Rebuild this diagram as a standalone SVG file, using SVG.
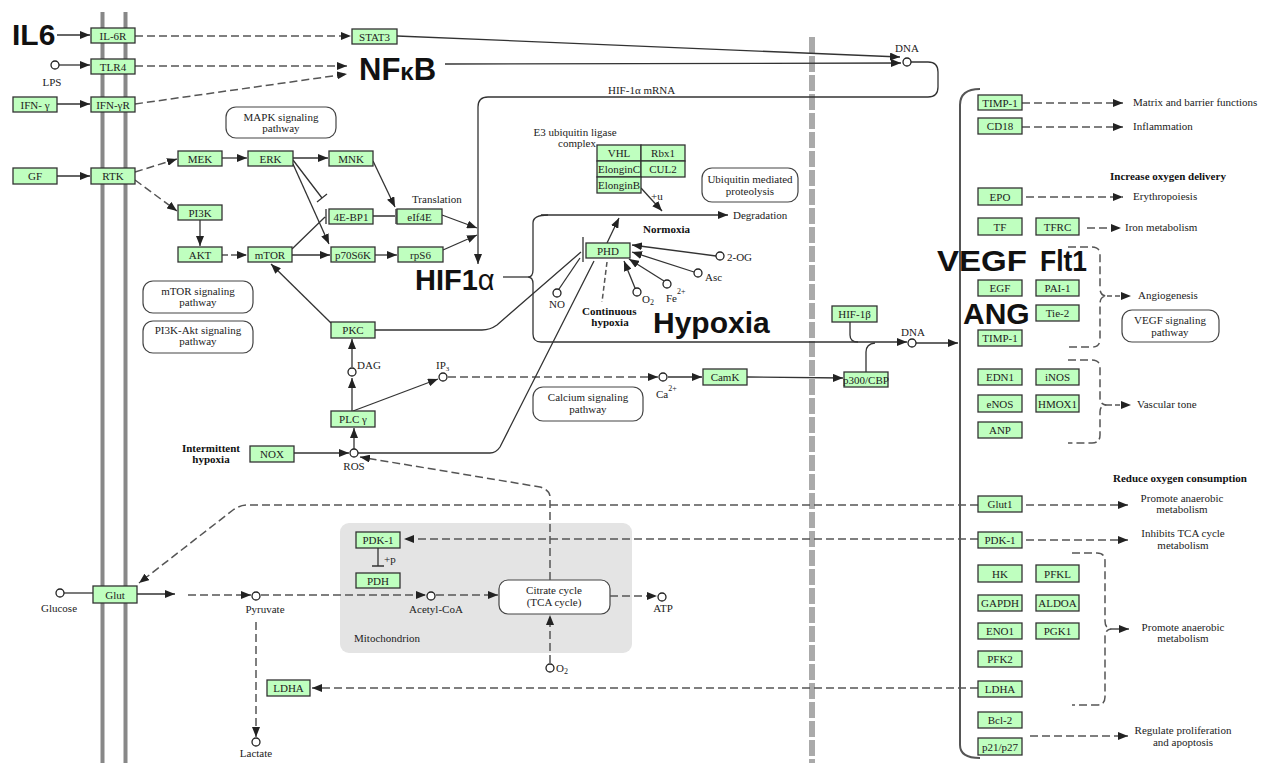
<svg xmlns="http://www.w3.org/2000/svg" width="1262" height="763" viewBox="0 0 1262 763">
<defs>
<marker id="ar" viewBox="0 0 10 8" refX="10" refY="4" markerWidth="10" markerHeight="8" markerUnits="userSpaceOnUse" orient="auto"><path d="M0,0 L10,4 L0,8 z" fill="#222"/></marker>
<style>
.n rect{fill:#bfffbf;stroke:#333;stroke-width:1.3}
.n text,.t{font-family:"Liberation Serif",serif;font-size:11px;fill:#222;text-anchor:middle}
.l{fill:none;stroke:#333;stroke-width:1.3}
.d{fill:none;stroke:#555;stroke-width:1.5;stroke-dasharray:8 4}
.a{marker-end:url(#ar)}
.c{fill:#fff;stroke:#222;stroke-width:1.3}
.pw{fill:#fff;stroke:#444;stroke-width:1.2}
.b{font-family:"Liberation Sans",Arial,sans-serif;font-weight:bold;fill:#111}
.bs{font-family:"Liberation Serif",serif;font-weight:bold;font-size:11px;fill:#111}
.tl{font-family:"Liberation Serif",serif;font-size:11px;fill:#222}
</style>
</defs>
<rect width="1262" height="763" fill="#fff"/>
<!-- membranes -->
<g id="membrane">
<line x1="102.5" y1="12" x2="102.5" y2="763" stroke="#888" stroke-width="4"/>
<line x1="125.5" y1="12" x2="125.5" y2="763" stroke="#888" stroke-width="4"/>
<line x1="812" y1="37" x2="812" y2="763" stroke="#aaa" stroke-width="6" stroke-dasharray="16 3"/>
</g>
<g id="mitochondrion">
<rect x="340" y="523" width="292" height="130" rx="9" fill="#e4e4e4"/>
<text class="tl" x="354" y="642">Mitochondrion</text>
</g>
<!-- pathway boxes -->
<g id="pathways">
<rect class="pw" x="226" y="107" width="110" height="31" rx="10"/>
<text class="t" x="281" y="121">MAPK signaling</text><text class="t" x="281" y="132">pathway</text>
<rect class="pw" x="143" y="281" width="110" height="32" rx="10"/>
<text class="t" x="198" y="295">mTOR signaling</text><text class="t" x="198" y="306">pathway</text>
<rect class="pw" x="143" y="321" width="110" height="32" rx="10"/>
<text class="t" x="198" y="334">PI3K-Akt signaling</text><text class="t" x="198" y="345">pathway</text>
<rect class="pw" x="702" y="168" width="96" height="34" rx="10"/>
<text class="t" x="750" y="183">Ubiquitin mediated</text><text class="t" x="750" y="195">proteolysis</text>
<rect class="pw" x="533" y="387" width="110" height="34" rx="10"/>
<text class="t" x="588" y="401">Calcium signaling</text><text class="t" x="588" y="413">pathway</text>
<rect class="pw" x="1122" y="310" width="97" height="32" rx="10"/>
<text class="t" x="1170" y="324">VEGF signaling</text><text class="t" x="1170" y="336">pathway</text>
<rect class="pw" x="499" y="580" width="111" height="34" rx="9"/>
<text class="t" x="554" y="594">Citrate cycle</text><text class="t" x="554" y="606">(TCA cycle)</text>
</g>
<!-- connectors -->
<g id="connectors">
<path class="l a" d="M57,35 L90,35"/>
<path class="l a" d="M59,65 L90,65"/>
<path class="l a" d="M57,104 L90,104"/>
<path class="l a" d="M57,176 L90,176"/>
<path class="d a" d="M135,36 L351,36"/>
<path class="d a" d="M135,66 L347,66"/>
<path class="d a" d="M135,104 L347,74"/>
<path class="l a" d="M397,36 L900,57"/>
<path class="l a" d="M445,64 L901,63"/>
<path class="l a" d="M911,62 L928,62 Q938,62 938,72 L938,87 Q938,97 928,97 L488,97 Q478,97 478,107 L478,264"/>
<path class="d a" d="M135,172 L177,159"/>
<path class="d a" d="M135,180 L177,211"/>
<path class="l a" d="M222,158 L247,158"/>
<path class="l a" d="M293,158 L328,158"/>
<path class="l a" d="M200,220 L200,246"/>
<path class="d a" d="M222,255 L247,255" style="stroke-dasharray:6 3"/>
<path class="l" d="M293,160 L322,198 M317,202 L327,194"/>
<path class="l a" d="M293,164 L329,244"/>
<path class="l" d="M292,249 L325,217 M326,209 L326,224"/>
<path class="l a" d="M292,255 L330,255"/>
<path class="l a" d="M373,161 L395,207"/>
<path class="l" d="M373,216 L395,216 M396,209 L396,224"/>
<path class="l a" d="M375,255 L397,255"/>
<path class="l a" d="M442,215 L477,228"/>
<path class="l a" d="M443,250 L477,235"/>
<path class="l a" d="M331,323 L271,264"/>
<path class="l a" d="M352,367 L352,339"/>
<path class="l a" d="M352,411 L352,378"/>
<path class="l a" d="M353,411 L438,379"/>
<path class="d a" d="M448,377 L658,377"/>
<path class="l a" d="M668,377 L702,377"/>
<path class="l a" d="M747,377 L843,378"/>
<path class="l a" d="M294,453 L349,453"/>
<path class="l a" d="M354,449 L354,428"/>
<path class="l" d="M375,330 L482,330 Q490,330 497,325 L581,252"/>
<path class="l" d="M358,453 L490,453 Q496,453 500,447 L594,261"/>
<path class="l" d="M559,289 L580,258"/>
<path class="l" d="M583,237 L583,262"/>
<path class="d" d="M607,262 L602,302" style="stroke-dasharray:5 3"/>
<path class="l a" d="M607,243 L619,218"/>
<path class="l a" d="M641,188 L662,211"/>
<path class="l a" d="M716,256 L632,245"/>
<path class="l a" d="M694,272 L632,252"/>
<path class="l a" d="M664,281 L629,259"/>
<path class="l a" d="M635,288 L624,261"/>
<path class="l a" d="M548,215 Q533,215 533,223 L533,270 Q533,277 528,277 Q533,277 533,284 L533,334 Q533,342 541,342 L907,342"/>
<path class="l" d="M541,215 L728,215" style="marker-end:url(#ar)"/>
<path class="l" d="M503,277 L528,277"/>
<path class="l" d="M850,322 L850,335 Q850,342 858,342"/>
<path class="l" d="M866,372 L866,352 Q866,344 875,343"/>
<path class="l a" d="M916,343 L958,343"/>
<path class="l" d="M980,89 Q960,89 960,105 L960,745 Q960,758 980,758" style="stroke:#555;stroke-width:2"/>
<!-- metabolism -->
<path class="l" d="M64,593 L93,593"/>
<path class="l a" d="M137,594 L175,594"/>
<path class="d a" d="M188,595 L251,595"/>
<path class="d a" d="M261,595 L426,595"/>
<path class="d a" d="M436,595 L498,595"/>
<path class="d a" d="M610,596 L657,596"/>
<path class="d a" d="M550,663 L550,615"/>
<path class="d a" d="M256,622 L256,737"/>
<path class="d a" d="M550,580 L550,497 Q550,490 540,487 L360,457"/>
<path class="l" d="M378,548 L378,566 M372,566 L384,566"/>
<path class="d a" d="M978,505 L248,505 Q240,505 233,510 L139,583"/>
<path class="d a" d="M978,539 L404,539"/>
<path class="d a" d="M978,688 L312,688"/>
<!-- right outputs -->
<path class="d a" d="M1022,103 L1123,103"/>
<path class="d a" d="M1022,127 L1123,127"/>
<path class="d a" d="M1026,197 L1123,197"/>
<path class="d a" d="M1087,228 L1121,228"/>
<path class="d" d="M1068,247 L1092,247 Q1100,247 1100,255 L1100,288 Q1100,296 1107,296 Q1100,296 1100,304 L1100,339 Q1100,347 1092,347 L1068,347"/>
<path class="d a" d="M1107,296 L1131,296" style="stroke-dasharray:5 3"/>
<path class="d" d="M1068,360 L1092,360 Q1100,360 1100,368 L1100,398 Q1100,405 1107,405 Q1100,405 1100,412 L1100,435 Q1100,443 1092,443 L1068,443"/>
<path class="d a" d="M1107,405 L1131,405" style="stroke-dasharray:5 3"/>
<path class="d a" d="M1026,505 L1128,505"/>
<path class="d a" d="M1026,540 L1128,540"/>
<path class="d" d="M1072,553 L1097,553 Q1105,553 1105,561 L1105,621 Q1105,629 1112,629 Q1105,629 1105,637 L1105,697 Q1105,705 1097,705 L1072,705"/>
<path class="l a" d="M1112,629 L1129,629"/>
<path class="d a" d="M1030,736 L1128,736"/>
</g>
<!-- compounds -->
<g id="compounds">
<circle class="c" cx="55" cy="65" r="4"/><text class="t" x="52" y="86">LPS</text>
<circle class="c" cx="907" cy="62" r="4"/><text class="t" x="907" y="52">DNA</text>
<circle class="c" cx="352" cy="372" r="4"/><text class="tl" x="357" y="369">DAG</text>
<circle class="c" cx="443" cy="377" r="4"/><text class="tl" x="436" y="369">IP<tspan font-size="7" dy="2">3</tspan></text>
<circle class="c" cx="663" cy="377" r="4"/><text class="tl" x="656" y="398">Ca<tspan font-size="8" dy="-7">2+</tspan></text>
<circle class="c" cx="354" cy="453" r="4"/><text class="t" x="354" y="470">ROS</text>
<circle class="c" cx="557" cy="293" r="4"/><text class="t" x="557" y="308">NO</text>
<circle class="c" cx="720" cy="256" r="4"/><text class="tl" x="727" y="261">2-OG</text>
<circle class="c" cx="698" cy="273" r="4"/><text class="tl" x="705" y="281">Asc</text>
<circle class="c" cx="667" cy="284" r="4"/><text class="tl" x="666" y="302">Fe<tspan font-size="8" dy="-8">2+</tspan></text>
<circle class="c" cx="637" cy="292" r="4"/><text class="tl" x="642" y="303">O<tspan font-size="8" dy="2">2</tspan></text>
<circle class="c" cx="912" cy="343" r="4"/><text class="t" x="913" y="336">DNA</text>
<circle class="c" cx="60" cy="593" r="4"/><text class="t" x="59" y="612">Glucose</text>
<circle class="c" cx="256" cy="596" r="4"/><text class="t" x="265" y="613">Pyruvate</text>
<circle class="c" cx="431" cy="596" r="4"/><text class="t" x="436" y="613">Acetyl-CoA</text>
<circle class="c" cx="662" cy="597" r="4"/><text class="t" x="663" y="612">ATP</text>
<circle class="c" cx="550" cy="668" r="4"/><text class="tl" x="556" y="672">O<tspan font-size="8" dy="2">2</tspan></text>
<circle class="c" cx="256" cy="742" r="4"/><text class="t" x="256" y="757">Lactate</text>
</g>
<!-- labels -->
<g id="labels">
<text class="b" x="12" y="45" font-size="30">IL6</text>
<text class="b" x="359" y="80" font-size="31">NF<tspan font-size="24">κ</tspan>B</text>
<text class="b" x="415" y="290" font-size="29">HIF1<tspan font-weight="normal">α</tspan></text>
<text class="b" x="653" y="333" font-size="30">Hypoxia</text>
<text class="b" x="937" y="271" font-size="30" textLength="90" lengthAdjust="spacingAndGlyphs">VEGF</text>
<text class="b" x="1040" y="271" font-size="30" textLength="47" lengthAdjust="spacingAndGlyphs">Flt1</text>
<text class="b" x="963" y="324" font-size="30">ANG</text>
<text class="tl" x="608" y="94">HIF-1α mRNA</text>
<text class="t" x="575" y="136">E3 ubiquitin ligase</text>
<text class="t" x="577" y="147">complex</text>
<text class="tl" x="412" y="203">Translation</text>
<text class="tl" x="651" y="200">+u</text>
<text class="tl" x="733" y="219">Degradation</text>
<text class="bs" x="643" y="233">Normoxia</text>
<text class="bs" x="582" y="315">Continuous</text>
<text class="bs" x="610" y="326" text-anchor="middle">hypoxia</text>
<text class="bs" x="211" y="452" text-anchor="middle">Intermittent</text>
<text class="bs" x="211" y="463" text-anchor="middle">hypoxia</text>
<text class="tl" x="384" y="563">+p</text>
<text class="tl" x="1133" y="106">Matrix and barrier functions</text>
<text class="tl" x="1133" y="130">Inflammation</text>
<text class="bs" x="1110" y="180">Increase oxygen delivery</text>
<text class="tl" x="1133" y="200">Erythropoiesis</text>
<text class="tl" x="1125" y="231">Iron metabolism</text>
<text class="tl" x="1138" y="299">Angiogenesis</text>
<text class="tl" x="1137" y="408">Vascular tone</text>
<text class="bs" x="1113" y="482">Reduce oxygen consumption</text>
<text class="t" x="1182" y="502">Promote anaerobic</text><text class="t" x="1182" y="513">metabolism</text>
<text class="t" x="1183" y="537">Inhibits TCA cycle</text><text class="t" x="1183" y="549">metabolism</text>
<text class="t" x="1183" y="631">Promote anaerobic</text><text class="t" x="1183" y="642">metabolism</text>
<text class="t" x="1183" y="734">Regulate proliferation</text><text class="t" x="1183" y="746">and apoptosis</text>
</g>
<!-- nodes -->
<g class="n">
<g id="IL6R"><rect x="91" y="28" width="44" height="15"/><text x="113" y="39.5">IL-6R</text></g>
<g id="TLR4"><rect x="91" y="59" width="44" height="15"/><text x="113" y="70.5">TLR4</text></g>
<g id="IFNgR"><rect x="91" y="97" width="44" height="15"/><text x="113" y="108.5">IFN-γR</text></g>
<g id="IFNg"><rect x="13" y="97" width="44" height="15"/><text x="35" y="108.5">IFN- γ</text></g>
<g id="GF"><rect x="13" y="168" width="44" height="16"/><text x="35" y="180">GF</text></g>
<g id="RTK"><rect x="91" y="168" width="44" height="16"/><text x="113" y="180">RTK</text></g>
<g id="MEK"><rect x="178" y="151" width="44" height="15"/><text x="200" y="162.5">MEK</text></g>
<g id="ERK"><rect x="248" y="151" width="45" height="15"/><text x="270.5" y="162.5">ERK</text></g>
<g id="MNK"><rect x="329" y="151" width="44" height="15"/><text x="351" y="162.5">MNK</text></g>
<g id="PI3K"><rect x="178" y="205" width="44" height="15"/><text x="200" y="216.5">PI3K</text></g>
<g id="AKT"><rect x="178" y="247" width="44" height="15"/><text x="200" y="258.5">AKT</text></g>
<g id="mTOR"><rect x="248" y="247" width="44" height="15"/><text x="270" y="258.5">mTOR</text></g>
<g id="EBP1"><rect x="329" y="209" width="44" height="15"/><text x="351" y="220.5">4E-BP1</text></g>
<g id="eIF4E"><rect x="397" y="209" width="45" height="15"/><text x="419.5" y="220.5">eIf4E</text></g>
<g id="p70S6K"><rect x="331" y="247" width="44" height="15"/><text x="353" y="258.5">p70S6K</text></g>
<g id="rpS6"><rect x="398" y="247" width="45" height="15"/><text x="420.5" y="258.5">rpS6</text></g>
<g id="STAT3"><rect x="352" y="29" width="45" height="15"/><text x="374.5" y="40.5">STAT3</text></g>
<g id="PKC"><rect x="331" y="322" width="44" height="16"/><text x="353" y="334">PKC</text></g>
<g id="PLCg"><rect x="331" y="411" width="44" height="16"/><text x="353" y="423">PLC γ</text></g>
<g id="NOX"><rect x="250" y="446" width="44" height="16"/><text x="272" y="458">NOX</text></g>
<g id="E3"><rect x="597" y="145" width="44" height="16"/><text x="619" y="157">VHL</text>
<rect x="641" y="145" width="44" height="16"/><text x="663" y="157">Rbx1</text>
<rect x="597" y="161" width="44" height="16"/><text x="619" y="173" font-size="10">ElonginC</text>
<rect x="641" y="161" width="44" height="16"/><text x="663" y="173">CUL2</text>
<rect x="597" y="177" width="44" height="16"/><text x="619" y="189" font-size="10">ElonginB</text></g>
<g id="PHD"><rect x="586" y="243" width="44" height="15"/><text x="608" y="254.5">PHD</text></g>
<g id="CamK"><rect x="703" y="369" width="44" height="16"/><text x="725" y="381">CamK</text></g>
<g id="p300"><rect x="844" y="372" width="44" height="15"/><text x="866" y="383.5" font-size="10">p300/CBP</text></g>
<g id="HIF1b"><rect x="832" y="306" width="45" height="16"/><text x="854.5" y="318">HIF-1β</text></g>
<g id="Glut"><rect x="93" y="586" width="44" height="17"/><text x="115" y="598.5">Glut</text></g>
<g id="PDK1m"><rect x="356" y="532" width="44" height="16"/><text x="378" y="544">PDK-1</text></g>
<g id="PDH"><rect x="356" y="573" width="44" height="15"/><text x="378" y="584.5">PDH</text></g>
<g id="LDHAl"><rect x="267" y="680" width="43" height="16"/><text x="288.5" y="692">LDHA</text></g>
<g id="TIMP1a"><rect x="978" y="95" width="44" height="15"/><text x="1000" y="106.5">TIMP-1</text></g>
<g id="CD18"><rect x="978" y="118" width="44" height="16"/><text x="1000" y="130">CD18</text></g>
<g id="EPO"><rect x="978" y="188" width="44" height="17"/><text x="1000" y="200.5">EPO</text></g>
<g id="TF"><rect x="978" y="218" width="44" height="17"/><text x="1000" y="230.5">TF</text></g>
<g id="TFRC"><rect x="1036" y="218" width="43" height="17"/><text x="1057.5" y="230.5">TFRC</text></g>
<g id="EGF"><rect x="978" y="280" width="44" height="16"/><text x="1000" y="292">EGF</text></g>
<g id="PAI1"><rect x="1036" y="280" width="43" height="16"/><text x="1057.5" y="292">PAI-1</text></g>
<g id="Tie2"><rect x="1036" y="305" width="43" height="16"/><text x="1057.5" y="317">Tie-2</text></g>
<g id="TIMP1b"><rect x="978" y="330" width="44" height="16"/><text x="1000" y="342">TIMP-1</text></g>
<g id="EDN1"><rect x="978" y="369" width="44" height="16"/><text x="1000" y="381">EDN1</text></g>
<g id="iNOS"><rect x="1036" y="369" width="43" height="16"/><text x="1057.5" y="381">iNOS</text></g>
<g id="eNOS"><rect x="978" y="395" width="44" height="17"/><text x="1000" y="407.5">eNOS</text></g>
<g id="HMOX1"><rect x="1036" y="395" width="43" height="17"/><text x="1057.5" y="407.5">HMOX1</text></g>
<g id="ANP"><rect x="978" y="422" width="44" height="16"/><text x="1000" y="434">ANP</text></g>
<g id="Glut1"><rect x="978" y="496" width="44" height="16"/><text x="1000" y="508">Glut1</text></g>
<g id="PDK1"><rect x="978" y="532" width="44" height="16"/><text x="1000" y="544">PDK-1</text></g>
<g id="HK"><rect x="978" y="565" width="44" height="17"/><text x="1000" y="577.5">HK</text></g>
<g id="PFKL"><rect x="1036" y="565" width="43" height="17"/><text x="1057.5" y="577.5">PFKL</text></g>
<g id="GAPDH"><rect x="978" y="595" width="44" height="16"/><text x="1000" y="607">GAPDH</text></g>
<g id="ALDOA"><rect x="1036" y="595" width="43" height="16"/><text x="1057.5" y="607">ALDOA</text></g>
<g id="ENO1"><rect x="978" y="623" width="44" height="16"/><text x="1000" y="635">ENO1</text></g>
<g id="PGK1"><rect x="1036" y="623" width="43" height="16"/><text x="1057.5" y="635">PGK1</text></g>
<g id="PFK2"><rect x="978" y="651" width="44" height="16"/><text x="1000" y="663">PFK2</text></g>
<g id="LDHA"><rect x="978" y="681" width="44" height="16"/><text x="1000" y="693">LDHA</text></g>
<g id="Bcl2"><rect x="978" y="712" width="44" height="16"/><text x="1000" y="724">Bcl-2</text></g>
<g id="p21"><rect x="978" y="738" width="44" height="17"/><text x="1000" y="750.5">p21/p27</text></g>
</g>
</svg>
